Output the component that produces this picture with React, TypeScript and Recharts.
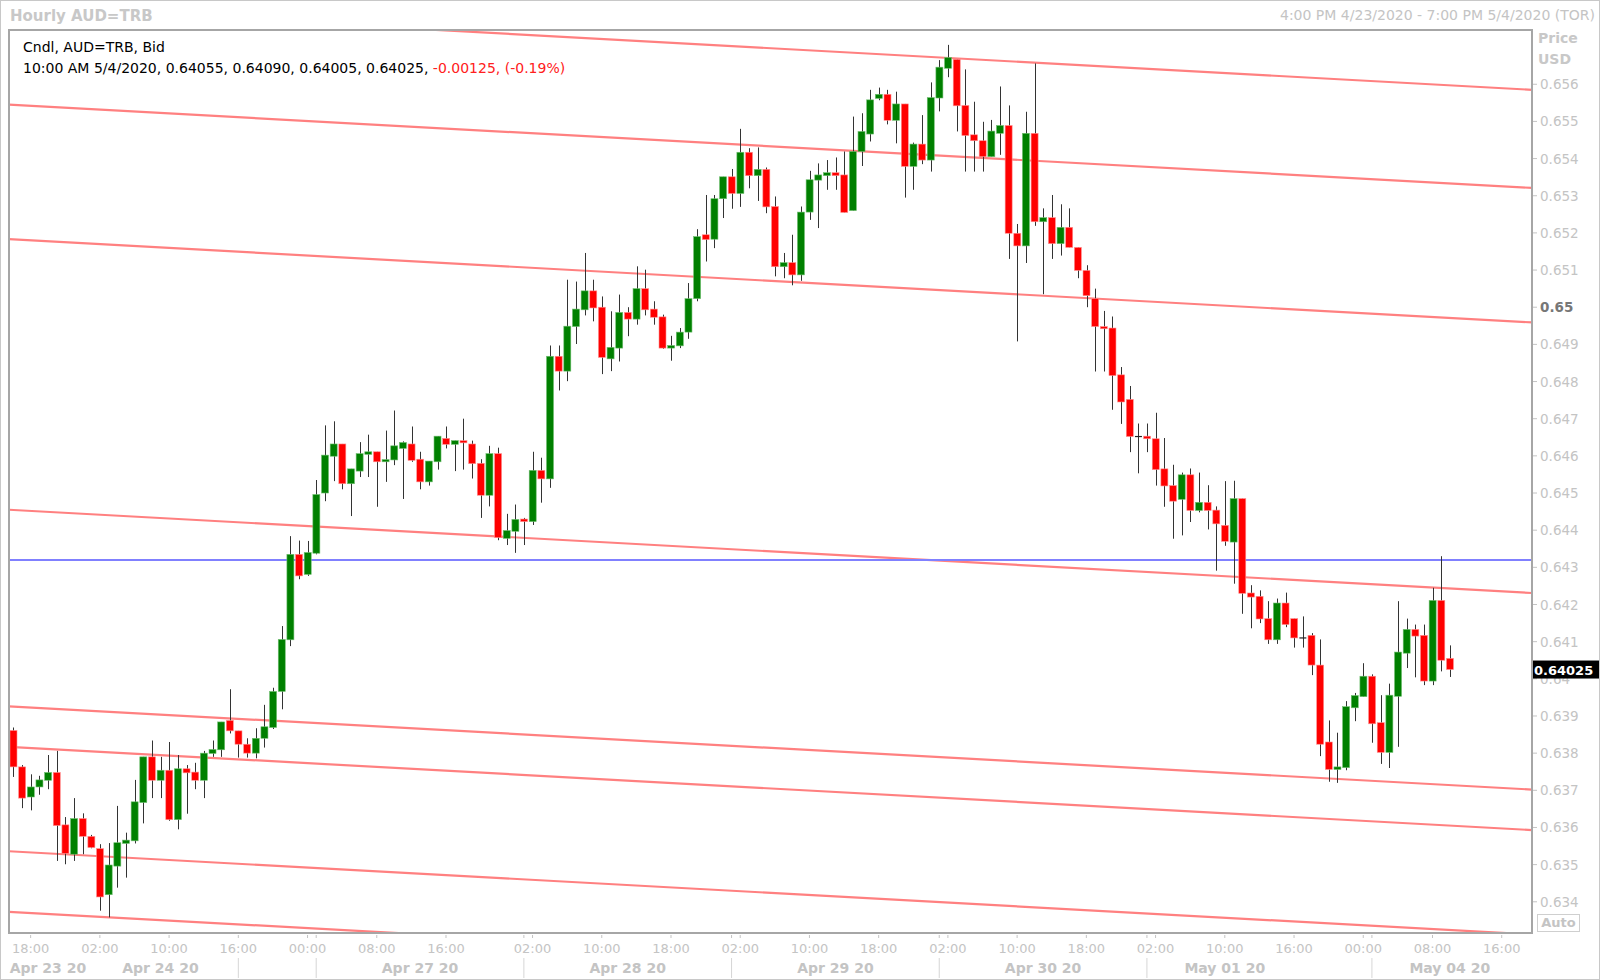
import { ComposedChart, Bar, XAxis, YAxis, ReferenceLine } from 'recharts';

// Hourly AUD candles, 4:00 PM 4/23 .. 10:00 AM 5/4 (one slot per bar)
const OPENS = [
  0.63861, 0.63763, 0.63682, 0.63709, 0.63727, 0.63748, 0.63607, 0.63528, 0.63624, 0.63576,
  0.63543, 0.63419, 0.63496, 0.63557, 0.63564, 0.63667, 0.6379, 0.63727, 0.63754, 0.63621,
  0.63758, 0.63749, 0.63727, 0.63799, 0.63809, 0.63888, 0.6386, 0.63824, 0.638, 0.6384,
  0.63869, 0.63966, 0.64105, 0.64335, 0.64281, 0.64338, 0.645, 0.64599, 0.64632, 0.64525,
  0.64559, 0.64604, 0.64611, 0.64584, 0.64589, 0.6462, 0.64632, 0.64591, 0.6453, 0.64584,
  0.64647, 0.64631, 0.64641, 0.64632, 0.6458, 0.64494, 0.64606, 0.64378, 0.64397, 0.6443,
  0.64423, 0.64561, 0.64538, 0.64868, 0.64828, 0.64948, 0.64993, 0.65044, 0.65, 0.64861,
  0.6489, 0.64986, 0.64968, 0.6505, 0.64995, 0.64974, 0.6489, 0.64896, 0.64933, 0.65023,
  0.65195, 0.65183, 0.65292, 0.65351, 0.65306, 0.65417, 0.65354, 0.65371, 0.65271, 0.65109,
  0.6512, 0.65087, 0.65256, 0.65342, 0.65354, 0.65362, 0.65356, 0.6526, 0.65419, 0.65466,
  0.65562, 0.65573, 0.65503, 0.65547, 0.65379, 0.65439, 0.65396, 0.65563, 0.65643, 0.65667,
  0.65543, 0.65464, 0.65448, 0.65405, 0.65468, 0.65489, 0.65199, 0.65165, 0.65468, 0.6523,
  0.65241, 0.65171, 0.65215, 0.65161, 0.65099, 0.65023, 0.64948, 0.64944, 0.64818, 0.64752,
  0.64652, 0.64653, 0.64646, 0.64565, 0.6452, 0.64483, 0.64549, 0.64453, 0.64475, 0.64454,
  0.64413, 0.64368, 0.64485, 0.64231, 0.64222, 0.64162, 0.64105, 0.64204, 0.64162, 0.6411,
  0.64117, 0.64037, 0.6383, 0.63756, 0.63761, 0.63922, 0.63952, 0.64007, 0.63882, 0.63802,
  0.63953, 0.64069, 0.64133, 0.64117, 0.63994, 0.64211, 0.64055,
];
const HIGHS = [
  0.63869, 0.63768, 0.63743, 0.63739, 0.63795, 0.63806, 0.63628, 0.63679, 0.63638, 0.6358,
  0.63555, 0.63558, 0.63658, 0.63586, 0.63728, 0.6379, 0.63834, 0.6379, 0.6383, 0.63795,
  0.63768, 0.63774, 0.63806, 0.63834, 0.63884, 0.63972, 0.6386, 0.6384, 0.63867, 0.6393,
  0.63976, 0.64142, 0.64384, 0.64372, 0.64371, 0.64535, 0.64682, 0.64693, 0.64632, 0.64565,
  0.64637, 0.64657, 0.64611, 0.64668, 0.64722, 0.64639, 0.64679, 0.64611, 0.64586, 0.64653,
  0.64679, 0.64641, 0.647, 0.64641, 0.64591, 0.64627, 0.64622, 0.64444, 0.64469, 0.64433,
  0.64611, 0.64595, 0.64897, 0.64897, 0.65074, 0.65069, 0.65146, 0.65074, 0.65029, 0.64989,
  0.65034, 0.65, 0.6511, 0.65101, 0.65016, 0.6498, 0.64923, 0.64944, 0.65065, 0.6521,
  0.65302, 0.65302, 0.65351, 0.65372, 0.6548, 0.65428, 0.6543, 0.65376, 0.65298, 0.65146,
  0.65195, 0.65271, 0.65367, 0.65387, 0.65396, 0.65403, 0.65419, 0.65513, 0.65522, 0.65585,
  0.65591, 0.65585, 0.6558, 0.65547, 0.65443, 0.65517, 0.65605, 0.65665, 0.65706, 0.65667,
  0.6564, 0.65553, 0.65499, 0.65504, 0.65594, 0.65543, 0.65224, 0.65526, 0.65656, 0.65266,
  0.65302, 0.65277, 0.65266, 0.65161, 0.65113, 0.6505, 0.6499, 0.64975, 0.64839, 0.64788,
  0.64687, 0.64687, 0.64716, 0.64648, 0.64576, 0.64555, 0.64566, 0.64555, 0.64521, 0.64464,
  0.64532, 0.64533, 0.64485, 0.64252, 0.64238, 0.64209, 0.64216, 0.64232, 0.64162, 0.64168,
  0.64123, 0.64106, 0.63888, 0.63855, 0.6394, 0.63962, 0.64042, 0.64012, 0.63956, 0.63987,
  0.64209, 0.64162, 0.64146, 0.64146, 0.64245, 0.6433, 0.6409,
];
const LOWS = [
  0.63736, 0.63652, 0.63646, 0.63688, 0.63703, 0.6351, 0.63501, 0.6351, 0.63528, 0.63544,
  0.63376, 0.63358, 0.63438, 0.63465, 0.63557, 0.63611, 0.63679, 0.63679, 0.63618, 0.63595,
  0.63637, 0.63703, 0.63679, 0.6379, 0.6379, 0.63853, 0.63788, 0.63788, 0.63786, 0.63815,
  0.63865, 0.63918, 0.64088, 0.64268, 0.64277, 0.64335, 0.64478, 0.64532, 0.6451, 0.64438,
  0.64543, 0.64543, 0.64463, 0.6453, 0.64575, 0.64484, 0.64584, 0.6451, 0.6452, 0.64563,
  0.6462, 0.64559, 0.64563, 0.64539, 0.64433, 0.64464, 0.64373, 0.6436, 0.64339, 0.6436,
  0.64414, 0.64474, 0.64514, 0.64776, 0.64801, 0.64901, 0.64978, 0.64962, 0.6482, 0.64828,
  0.64854, 0.64922, 0.64953, 0.64978, 0.64953, 0.64888, 0.64856, 0.6489, 0.64915, 0.65016,
  0.65123, 0.65159, 0.6524, 0.65265, 0.6527, 0.6532, 0.65286, 0.65253, 0.65083, 0.65078,
  0.65059, 0.65071, 0.65235, 0.65213, 0.65316, 0.65316, 0.65255, 0.6526, 0.6538, 0.65446,
  0.65557, 0.65492, 0.65441, 0.65295, 0.65316, 0.65385, 0.65365, 0.65527, 0.65619, 0.65473,
  0.65365, 0.65365, 0.65365, 0.65405, 0.6541, 0.6513, 0.64908, 0.65119, 0.65219, 0.65035,
  0.6513, 0.65139, 0.65161, 0.65078, 0.65, 0.64827, 0.64827, 0.64724, 0.64686, 0.6461,
  0.64553, 0.6461, 0.6452, 0.64463, 0.64377, 0.64386, 0.64422, 0.64448, 0.64402, 0.64291,
  0.64358, 0.64256, 0.64175, 0.64136, 0.6415, 0.64094, 0.64094, 0.64139, 0.64084, 0.64084,
  0.6401, 0.63792, 0.63723, 0.6372, 0.63754, 0.63886, 0.63952, 0.63828, 0.63771, 0.6376,
  0.63817, 0.64029, 0.64004, 0.63983, 0.63983, 0.6402, 0.64005,
];
const CLOSES = [
  0.63763, 0.63679, 0.63709, 0.63728, 0.63748, 0.63605, 0.6353, 0.63624, 0.63576, 0.63546,
  0.63413, 0.63499, 0.63559, 0.63566, 0.63669, 0.6379, 0.63727, 0.63754, 0.63621, 0.63758,
  0.63747, 0.63727, 0.638, 0.6381, 0.63884, 0.6386, 0.63824, 0.638, 0.6384, 0.63871,
  0.63966, 0.64106, 0.64335, 0.64277, 0.6434, 0.64496, 0.64602, 0.64632, 0.64525, 0.64565,
  0.64606, 0.64611, 0.64584, 0.6459, 0.64627, 0.64636, 0.64588, 0.6453, 0.64586, 0.64653,
  0.64631, 0.64641, 0.64635, 0.64579, 0.64494, 0.64606, 0.6438, 0.64399, 0.64429, 0.64423,
  0.64561, 0.64538, 0.64868, 0.64828, 0.64949, 0.64995, 0.65044, 0.64998, 0.64865, 0.64892,
  0.64986, 0.64968, 0.6505, 0.64993, 0.64973, 0.6489, 0.64897, 0.64933, 0.65023, 0.6519,
  0.65182, 0.65292, 0.65351, 0.65306, 0.65417, 0.65354, 0.65371, 0.6527, 0.65109, 0.6512,
  0.65087, 0.65256, 0.65343, 0.65356, 0.65362, 0.65354, 0.65255, 0.65419, 0.65473, 0.65558,
  0.65573, 0.65503, 0.65547, 0.65379, 0.65439, 0.65396, 0.65564, 0.65646, 0.65672, 0.65542,
  0.65462, 0.65448, 0.65405, 0.65474, 0.65489, 0.65199, 0.65165, 0.65468, 0.6523, 0.65241,
  0.65171, 0.65215, 0.65161, 0.65099, 0.65031, 0.64948, 0.64942, 0.64816, 0.64745, 0.64652,
  0.64652, 0.64646, 0.64563, 0.64519, 0.64478, 0.64549, 0.64453, 0.64475, 0.64453, 0.64417,
  0.6437, 0.64485, 0.6423, 0.6422, 0.64161, 0.64105, 0.64204, 0.64146, 0.6411, 0.6411,
  0.64037, 0.63824, 0.63756, 0.63763, 0.63925, 0.63955, 0.64007, 0.63879, 0.63802, 0.63956,
  0.64072, 0.64133, 0.64115, 0.63994, 0.64211, 0.6405, 0.64025,
];

// x axis runs to 7:00 PM 5/4, so empty slots follow the last candle
const SLOT_COUNT = 176;

const TIME_TICK_IDX = [2, 10, 18, 26, 34, 42, 50, 60, 68, 76, 84, 92, 100, 108, 116, 124, 132, 140, 148, 156, 164, 172];
const TIME_TICK_LABELS = [
  '18:00', '02:00', '10:00', '16:00', '00:00', '08:00', '16:00', '02:00', '10:00', '18:00', '02:00',
  '10:00', '18:00', '02:00', '10:00', '18:00', '02:00', '10:00', '16:00', '00:00', '08:00', '16:00',
];
const DATE_IDX = [4, 17, 47, 71, 95, 119, 140, 166];
const DATE_LABELS = ['Apr 23 20', 'Apr 24 20', 'Apr 27 20', 'Apr 28 20', 'Apr 29 20', 'Apr 30 20', 'May 01 20', 'May 04 20'];
const DAY_SEP_IDX = [26, 35, 59, 83, 107, 131, 157];

const PRICE_TICKS = [
  0.634, 0.635, 0.636, 0.637, 0.638, 0.639, 0.64, 0.641, 0.642, 0.643, 0.644, 0.645,
  0.646, 0.647, 0.648, 0.649, 0.65, 0.651, 0.652, 0.653, 0.654, 0.655, 0.656,
];
const PRICE_DOMAIN = [0.63316, 0.65746];

// descending channel lines: price at left edge and at right edge of the plot
const TREND_START = [0.65809, 0.65545, 0.65183, 0.64455, 0.63926, 0.63817, 0.63536, 0.63373];
const TREND_END = [0.65585, 0.65321, 0.64959, 0.64231, 0.63702, 0.63593, 0.63312, 0.63149];
const RESISTANCE = 0.6432;

const LAST_CLOSE = 0.64025;
const LEGEND_TITLE = 'Cndl, AUD=TRB, Bid';
const LEGEND_VALUES = '10:00 AM 5/4/2020, 0.64055, 0.64090, 0.64005, 0.64025, ';
const LEGEND_CHANGE = '-0.00125, (-0.19%)';

const FONT = "'DejaVu Sans', Verdana, sans-serif";
const AXIS_GREY = '#c4c4c4';
const UP = '#008000';
const DOWN = '#ff0000';

const data = Array.from({ length: SLOT_COUNT }, (_, i) =>
  i < OPENS.length
    ? { i, open: OPENS[i], high: HIGHS[i], low: LOWS[i], close: CLOSES[i], range: [LOWS[i], HIGHS[i]] }
    : { i, range: null }
);

const xTicks = Array.from(new Set([...TIME_TICK_IDX, ...DATE_IDX, ...DAY_SEP_IDX])).sort((a, b) => a - b);

function Candle(props: any) {
  const { x, y, width, height, payload } = props;
  if (!payload || payload.open == null || !(height > 0)) return <g />;
  const { open, close, high, low } = payload;
  // map prices into the bar's [low, high] pixel span
  const k = height / (high - low);
  const yOf = (v: number) => y + (high - v) * k;
  const cx = Math.round(x + width / 2) + 0.5;
  const top = yOf(Math.max(open, close));
  const bottom = yOf(Math.min(open, close));
  const flat = open === close;
  const up = close > open;
  return (
    <g>
      <line x1={cx} x2={cx} y1={y} y2={y + height} stroke="#333" strokeWidth={1} />
      {flat ? (
        <line x1={x} x2={x + width} y1={top} y2={top} stroke="#222" strokeWidth={1.2} />
      ) : (
        <rect
          x={x}
          y={top}
          width={width}
          height={Math.max(bottom - top, 1.5)}
          fill={up ? UP : DOWN}
          stroke={up ? '#6fbf6f' : '#ff9090'}
          strokeWidth={0.6}
        />
      )}
    </g>
  );
}

function PriceTick(props: any) {
  const { x, y, payload } = props;
  const v = payload.value;
  if (v === LAST_CLOSE) {
    return (
      <g>
        <rect x={x - 8} y={y - 9} width={68} height={18} fill="#000" />
        <text x={x - 6} y={y + 5} fill="#fff" fontSize={13} fontWeight="bold" fontFamily={FONT}>
          {LAST_CLOSE.toFixed(5)}
        </text>
      </g>
    );
  }
  const major = Math.abs(v - 0.65) < 1e-9;
  return (
    <g>
      <line x1={x - 8} x2={x - 3} y1={y} y2={y} stroke={AXIS_GREY} />
      <text
        x={x}
        y={y + 5}
        fill={major ? '#777' : AXIS_GREY}
        fontWeight={major ? 'bold' : 'normal'}
        fontSize={13.5}
        fontFamily={FONT}
      >
        {String(Number(v.toFixed(3)))}
      </text>
    </g>
  );
}

function TimeTick(props: any) {
  const { x, y, payload } = props;
  const idx = Number(payload.value);
  const t = TIME_TICK_IDX.indexOf(idx);
  const d = DATE_IDX.indexOf(idx);
  const sep = DAY_SEP_IDX.includes(idx);
  return (
    <g fontFamily={FONT}>
      {(t >= 0 || sep) && <line x1={x} x2={x} y1={y + 2} y2={y + 5} stroke={AXIS_GREY} />}
      {t >= 0 && (
        <text x={x} y={y + 20} textAnchor="middle" fill={AXIS_GREY} fontSize={13}>
          {TIME_TICK_LABELS[t]}
        </text>
      )}
      {sep && <line x1={x} x2={x} y1={y + 25} y2={y + 45} stroke="#d6d6d6" />}
      {d >= 0 && (
        <text x={x} y={y + 40} textAnchor="middle" fill={AXIS_GREY} fontSize={14} fontWeight="bold">
          {DATE_LABELS[d]}
        </text>
      )}
    </g>
  );
}

export default function App() {
  return (
    <div
      style={{
        position: 'absolute',
        left: 0,
        top: 0,
        width: 1600,
        height: 980,
        background: '#fff',
        fontFamily: FONT,
        boxSizing: 'border-box',
        border: '1px solid #c8c8c8',
        overflow: 'hidden',
      }}
    >
      <ComposedChart width={1600} height={980} data={data} margin={{ top: 29, right: 0, bottom: 0, left: 8 }}>
        <XAxis
          xAxisId="cat"
          dataKey="i"
          type="category"
          ticks={xTicks}
          interval={0}
          height={48}
          tickSize={0}
          tickMargin={0}
          axisLine={false}
          tickLine={false}
          tick={TimeTick}
        />
        <XAxis xAxisId="num" dataKey="i" type="number" domain={[-0.5, SLOT_COUNT - 0.5]} allowDataOverflow hide />
        <YAxis
          orientation="right"
          width={69}
          type="number"
          domain={PRICE_DOMAIN}
          allowDataOverflow
          ticks={[...PRICE_TICKS, LAST_CLOSE]}
          interval={0}
          tickSize={6}
          tickMargin={2}
          axisLine={false}
          tickLine={false}
          tick={PriceTick}
        />
        {TREND_START.map((p, k) => (
          <ReferenceLine
            key={k}
            xAxisId="num"
            segment={[
              { x: -0.5, y: p },
              { x: SLOT_COUNT - 0.5, y: TREND_END[k] },
            ]}
            stroke="#ff8080"
            strokeWidth={2.2}
            ifOverflow="hidden"
            zIndex={50}
          />
        ))}
        <ReferenceLine xAxisId="num" y={RESISTANCE} stroke="#8080ff" strokeWidth={2} ifOverflow="hidden" zIndex={50} />
        <Bar xAxisId="cat" dataKey="range" barSize={7} shape={Candle} isAnimationActive={false} />
      </ComposedChart>

      {/* plot frame */}
      <div
        style={{
          position: 'absolute',
          left: 7,
          top: 28,
          width: 1525,
          height: 905,
          boxSizing: 'border-box',
          border: '2px solid #a6a6a6',
          pointerEvents: 'none',
        }}
      />

      <div style={{ position: 'absolute', left: 9, top: 6, fontSize: 15, fontWeight: 'bold', color: '#c8c8c8' }}>
        Hourly AUD=TRB
      </div>
      <div style={{ position: 'absolute', right: 4, top: 6, fontSize: 14, color: '#c4c4c4' }}>
        4:00 PM 4/23/2020 - 7:00 PM 5/4/2020 (TOR)
      </div>
      <div style={{ position: 'absolute', left: 1537, top: 29, fontSize: 14, fontWeight: 'bold', color: '#c8c8c8' }}>
        Price
      </div>
      <div style={{ position: 'absolute', left: 1537, top: 50, fontSize: 14, fontWeight: 'bold', color: '#c8c8c8' }}>
        USD
      </div>
      <div
        style={{
          position: 'absolute',
          left: 1536,
          top: 913,
          width: 43,
          height: 18,
          boxSizing: 'border-box',
          border: '1px solid #cfcfcf',
          fontSize: 13,
          fontWeight: 'bold',
          color: '#c4c4c4',
          lineHeight: '16px',
          textAlign: 'center',
        }}
      >
        Auto
      </div>

      <div style={{ position: 'absolute', left: 22, top: 37, fontSize: 14, color: '#000', lineHeight: '18px' }}>
        <div>{LEGEND_TITLE}</div>
        <div style={{ marginTop: 3 }}>
          {LEGEND_VALUES}
          <span style={{ color: '#ff2020' }}>{LEGEND_CHANGE}</span>
        </div>
      </div>
    </div>
  );
}
